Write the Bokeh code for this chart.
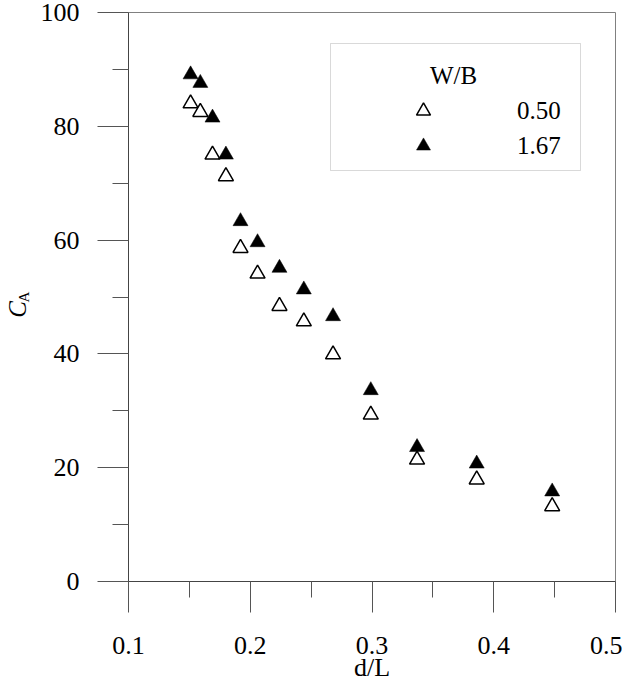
from bokeh.plotting import figure
from bokeh.models import (FixedTicker, Legend, LegendItem, Label, BoxAnnotation,
                          Range1d, LinearAxis)
from bokeh.embed import file_html
from bokeh.resources import INLINE

# d/L is shared by both W/B series
d_L = [0.151, 0.159, 0.169, 0.180, 0.192, 0.206, 0.224, 0.244, 0.268, 0.299, 0.337, 0.386, 0.448]
ca_050 = [84.0, 82.5, 75.0, 71.2, 58.6, 54.1, 48.4, 45.7, 39.9, 29.3, 21.4, 17.9, 13.2]
ca_167 = [89.1, 87.6, 81.5, 75.0, 63.3, 59.6, 55.1, 51.3, 46.6, 33.6, 23.6, 20.7, 15.8]

x_ticks = [0.1, 0.2, 0.3, 0.4, 0.5]
x_minor = [0.15, 0.25, 0.35, 0.45]
y_ticks = [0, 20, 40, 60, 80, 100]
y_minor = [10, 30, 50, 70, 90]
series_labels = ["0.50", "1.67"]

FONT = "Liberation Serif"
NB = "\u00a0"     # measured but not drawn -> pushes the rotated C down

p = figure(width=622, height=684,
           x_range=Range1d(0.1, 0.5), y_range=Range1d(0, 100),
           output_backend="svg", toolbar_location=None,
           min_border_left=128, min_border_right=7,
           min_border_top=12, min_border_bottom=103)

p.xgrid.visible = False
p.ygrid.visible = False
p.outline_line_color = "#808080"
p.outline_line_width = 1

p.xaxis.ticker = FixedTicker(ticks=x_ticks, minor_ticks=x_minor)
p.yaxis.ticker = FixedTicker(ticks=y_ticks, minor_ticks=y_minor)

for ax in (p.xaxis, p.yaxis):
    ax.axis_line_color = "#444444"
    ax.major_tick_line_color = "#555555"
    ax.minor_tick_line_color = "#555555"
    ax.major_tick_in = 0
    ax.minor_tick_in = 0
    ax.major_tick_out = 31
    ax.minor_tick_out = 16
    ax.major_label_text_font = FONT
    ax.major_label_text_font_size = "26px"
    ax.major_label_text_color = "black"
    ax.axis_label_text_font = FONT
    ax.axis_label_text_color = "black"
    ax.axis_label_text_font_style = "normal"

p.xaxis.major_label_standoff = 24
p.xaxis.axis_label = "d/L"
p.xaxis.axis_label_text_font_size = "26px"
p.xaxis.axis_label_standoff = -4

p.yaxis.major_label_standoff = 18
# subscript of C_A sits on the inner axis
p.yaxis.axis_label = "A"
p.yaxis.axis_label_text_font_size = "15px"
p.yaxis.axis_label_standoff = 6

# outer axis only carries the italic C
c_axis = LinearAxis(ticker=FixedTicker(ticks=[]), axis_line_alpha=0,
                    major_tick_out=0, major_tick_in=0, minor_tick_out=0, minor_tick_in=0,
                    major_label_standoff=0,
                    axis_label="C" + NB * 4, axis_label_standoff=-18,
                    axis_label_text_font=FONT, axis_label_text_font_size="25px",
                    axis_label_text_font_style="italic", axis_label_text_color="black")
p.add_layout(c_axis, "left")

r_open = p.scatter(d_L, ca_050, marker="triangle", size=15,
                   fill_color="white", line_color="black", line_width=1.5)
r_fill = p.scatter(d_L, ca_167, marker="triangle", size=15,
                   fill_color="black", line_color="black", line_width=0.5)

# legend frame drawn separately so the items can sit where they should
p.add_layout(BoxAnnotation(left=202, right=452, bottom=411, top=538,
                           left_units="screen", right_units="screen",
                           bottom_units="screen", top_units="screen",
                           fill_alpha=0, line_color="#808080", line_width=1))

legend = Legend(items=[LegendItem(label=series_labels[0], renderers=[r_open]),
                       LegendItem(label=series_labels[1], renderers=[r_fill])],
                location=(275, 418), padding=0, spacing=-4, margin=0,
                glyph_width=40, glyph_height=35, label_standoff=74,
                label_text_font=FONT, label_text_font_size="25px",
                label_text_color="black",
                border_line_alpha=0, background_fill_alpha=0)
p.add_layout(legend)

p.add_layout(Label(x=325, y=506, x_units="screen", y_units="screen", text="W/B",
                   text_font=FONT, text_font_size="25px", text_color="black",
                   text_align="center", text_baseline="middle"))

open("out.html", "w").write(file_html(p, INLINE))
